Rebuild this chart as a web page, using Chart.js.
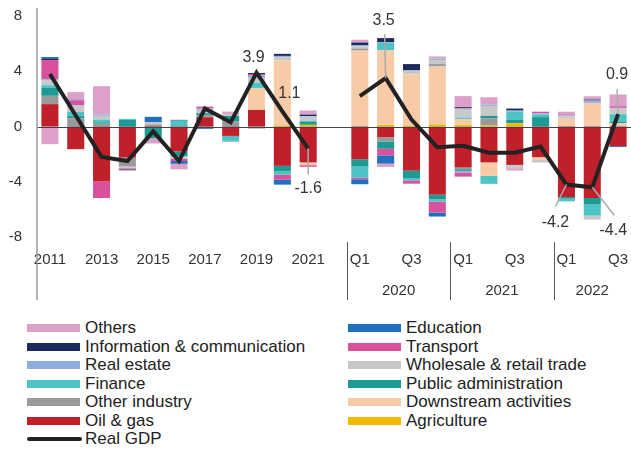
<!DOCTYPE html>
<html>
<head>
<meta charset="utf-8">
<script src="https://cdn.jsdelivr.net/npm/chart.js@4.4.1/dist/chart.umd.min.js"></script>
<style>
  html, body { margin: 0; padding: 0; background: #fff; }
  body { width: 631px; height: 449px; position: relative; overflow: hidden; font-family: "Liberation Sans", Arial, sans-serif; }
  #myChart { position: absolute; left: 0; top: 0; }
  #legend { position: absolute; left: 27px; top: 319px; display: grid; grid-template-columns: 321px 270px; grid-auto-rows: 18.5px; }
  .item { display: flex; align-items: center; font-size: 17px; color: #222; white-space: nowrap; }
  .sw { width: 53px; height: 8px; margin-right: 5px; }
  .ln { width: 55px; height: 4px; border-radius: 2px; margin-right: 3px; }
</style>
</head>
<body>
<canvas id="myChart" width="631" height="310"></canvas>
<div id="legend"></div>
<script>
const fontSize = 15;

// x categories: 2011-2021 annual, an empty slot, then quarters 2020Q1-2022Q3
const categories = ['2011','2012','2013','2014','2015','2016','2017','2018','2019','2020','2021','',
  'Q1','Q2','Q3','Q4','Q1','Q2','Q3','Q4','Q1','Q2','Q3'];
const yearGroups = ['2020', '2021', '2022'];
const yTicks = [-8, -4, 0, 4, 8];

// contributions, percentage points (stacked from zero outward in this order)
const agriculture   = [0,0,0,0,0,0,0,0,0,0.07,0.12,null, 0,0.12,0.07,0.15,0.12,0.07,0.24,0,0,0,0];
const oilGas        = [1.62,-1.64,-3.98,-2.25,0.05,-1.8,0.67,-0.68,1.2,-2.85,-2.6,null, -2.37,-0.77,-3.2,-4.95,-2.97,-2.6,-2.78,-2.22,-5.1,-5.17,-1.42];
const downstream    = [0,0,0,0,0,0,0,0,1.57,4.7,-0.2,null, 5.5,5.4,3.72,4.2,0.43,-0.97,0,-0.15,0.56,1.71,0.24];
const otherIndustry = [0.6,0.6,0.2,-0.65,0.1,0,0.15,0.36,-0.15,0,0,null, 0.15,-0.31,0,0.17,-0.12,0.53,0,0,0,0,0];
const publicAdmin   = [0.6,0.15,0.1,0.48,-0.85,-0.35,0.14,0.4,0.05,-0.4,0.24,null, -0.53,-0.53,-0.53,-0.31,-0.12,0.17,0.24,0.68,-0.12,-0.48,0.1];
const finance       = [0.17,0.3,0.2,0.07,0,0.43,0,-0.36,0.36,-0.24,0.05,null, -0.8,0.53,-0.17,-0.17,0.1,-0.58,0.6,0.17,-0.2,-0.8,0.55];
const wholesale     = [0.34,0.45,0.27,-0.12,0.15,-0.2,0.24,0.15,0.35,0.24,0.3,null, 0.15,0,0.27,0.3,0.65,0.72,-0.24,-0.24,0.17,-0.29,0.41];
const realEstate    = [0.1,0.05,0.1,0,0,0,0.1,-0.07,0.15,0.1,0.05,null, 0.08,0.05,0,0.1,-0.12,0.1,0.07,0.1,0.07,0.17,0.05];
const transport     = [1.38,0.34,-1.2,-0.08,0,-0.15,0.14,0,0.12,-0.36,-0.12,null, -0.12,-0.48,-0.24,-0.8,-0.3,0,0,0.12,0.07,0,0.12];
const infoComm      = [0.12,0,0,-0.07,0,0.05,0,0,0.07,0.15,0.1,null, 0.2,0.3,0.46,0,0.1,0,0.15,0,0,0.07,0];
const education     = [0.1,0.05,0,0,0.4,-0.2,-0.17,0,0,-0.36,0,null, -0.36,-0.6,0,-0.29,0,0,0,0,0,0,-0.07];
const others        = [-1.28,0.55,2.05,0,-0.38,-0.4,0,0.17,0,0,0.3,null, 0.2,-0.24,0,0.15,0.8,0.53,-0.17,0,0.2,0.24,0.85];
const realGdp       = [3.8,0.8,-2.2,-2.5,-0.35,-2.5,1.3,0.3,3.9,1.1,-1.6,null, 2.2,3.5,0.5,-1.5,-1.4,-1.9,-1.9,-1.45,-4.2,-4.4,0.9];

const series = [
  { label: 'Agriculture', data: agriculture, color: '#f5b800' },
  { label: 'Oil & gas', data: oilGas, color: '#c0202a' },
  { label: 'Downstream activities', data: downstream, color: '#f8cba7' },
  { label: 'Other industry', data: otherIndustry, color: '#9a9a9c' },
  { label: 'Public administration', data: publicAdmin, color: '#1d9a93' },
  { label: 'Finance', data: finance, color: '#4cc4c6' },
  { label: 'Wholesale & retail trade', data: wholesale, color: '#c8c8c8' },
  { label: 'Real estate', data: realEstate, color: '#8faedc' },
  { label: 'Transport', data: transport, color: '#d9519d' },
  { label: 'Information & communication', data: infoComm, color: '#1c2a5e' },
  { label: 'Education', data: education, color: '#1f70c1' },
  { label: 'Others', data: others, color: '#dda0c8' }
];

const legendOrder = ['Others','Education','Information & communication','Transport','Real estate',
  'Wholesale & retail trade','Finance','Public administration','Other industry','Downstream activities',
  'Oil & gas','Agriculture','Real GDP'];

// points of the GDP line that carry a value label
const labelledPoints = [8, 9, 10, 13, 20, 21, 22];

const tickFont = { family: '"Liberation Sans", Arial, sans-serif', size: fontSize };

const overlay = {
  id: 'overlay',
  beforeDatasetDraw(chart, args) {
    if (args.meta.type !== 'line') return;
    const c = chart.ctx, a = chart.chartArea, y0 = chart.scales.y.getPixelForValue(0);
    c.save();
    c.strokeStyle = '#444';
    c.lineWidth = 1;
    c.beginPath();
    c.moveTo(a.left, Math.round(y0) + 0.5);
    c.lineTo(631, Math.round(y0) + 0.5);
    c.stroke();
    c.restore();
  },
  afterDraw(chart) {
    const c = chart.ctx, a = chart.chartArea, x = chart.scales.x, y = chart.scales.y;
    const half = (x.getPixelForValue(1) - x.getPixelForValue(0)) / 2;
    c.save();
    // y axis line
    c.strokeStyle = '#999';
    c.lineWidth = 1.5;
    c.beginPath();
    c.moveTo(a.left, 8);
    c.lineTo(a.left, 300);
    c.stroke();
    // group separators and year labels
    c.strokeStyle = '#555';
    c.lineWidth = 1;
    c.fillStyle = '#333';
    c.font = fontSize + 'px "Liberation Sans", Arial, sans-serif';
    c.textAlign = 'center';
    c.textBaseline = 'middle';
    const starts = [12, 16, 20], ends = [15, 19, 22];
    starts.forEach((s, i) => {
      const sx = Math.round(x.getPixelForValue(s) - half) + 0.5;
      c.beginPath();
      c.moveTo(sx, 242);
      c.lineTo(sx, 300);
      c.stroke();
      const mid = (x.getPixelForValue(s) + x.getPixelForValue(ends[i])) / 2;
      c.fillText(yearGroups[i], mid, 291);
    });
    // value labels for the GDP line
    const offs = {
      8: { lead: null, tx: -3, ty: -15 },
      9: { lead: null, tx: 7, ty: -18 },
      10: { lead: [0, 26], tx: 0, ty: 40 },
      13: { lead: [-1, -44], tx: -2, ty: -58 },
      20: { lead: [-11, 22], tx: -11, ty: 38 },
      21: { lead: [22, 28], tx: 21, ty: 43 },
      22: { lead: [-1, -25], tx: -1, ty: -39 }
    };
    c.font = '16px "Liberation Sans", Arial, sans-serif';
    labelledPoints.forEach(i => {
      const px = x.getPixelForValue(i), py = y.getPixelForValue(realGdp[i]);
      const o = offs[i];
      if (o.lead) {
        c.strokeStyle = '#aaa';
        c.lineWidth = 1.5;
        c.beginPath();
        c.moveTo(px, py);
        c.lineTo(px + o.lead[0], py + o.lead[1]);
        c.stroke();
      }
      c.fillStyle = '#333';
      c.fillText(realGdp[i].toFixed(1), px + o.tx, py + o.ty);
    });
    c.restore();
  }
};

const datasets = [{
  type: 'line',
  label: 'Real GDP',
  data: realGdp,
  stack: 'gdp',
  order: -1,
  borderColor: '#222',
  borderWidth: 4,
  pointRadius: 0,
  spanGaps: false,
  tension: 0
}].concat(series.map(s => ({
  label: s.label,
  data: s.data,
  backgroundColor: s.color,
  borderWidth: 0,
  stack: 'contrib',
  categoryPercentage: 1,
  barPercentage: 0.66
})));

const myChart = new Chart(document.getElementById('myChart'), {
  type: 'bar',
  data: { labels: categories, datasets: datasets },
  plugins: [overlay],
  options: {
    responsive: false,
    animation: false,
    layout: { padding: { top: 16, right: 0, left: 0, bottom: 0 } },
    plugins: { legend: { display: false }, tooltip: { enabled: false } },
    scales: {
      x: {
        stacked: true,
        grid: { display: false, drawTicks: false },
        border: { display: false },
        ticks: {
          autoSkip: false, maxRotation: 0, padding: 14, color: '#333', font: tickFont,
          callback: function (v, i) {
            const l = categories[i];
            if (i <= 10) return i % 2 === 0 ? l : '';
            return (l === 'Q1' || l === 'Q3') ? l : '';
          }
        },
        afterFit: s => { s.height = 73; s.paddingLeft = 0; s.paddingRight = 0; }
      },
      y: {
        stacked: true,
        min: yTicks[0],
        max: yTicks[yTicks.length - 1],
        grid: { display: false, drawTicks: false },
        border: { display: false },
        ticks: { stepSize: 4, padding: 15, color: '#333', font: tickFont },
        afterFit: s => { s.width = 37; s.paddingTop = 0; s.paddingBottom = 0; }
      }
    }
  }
});

// legend in two columns
const legendEl = document.getElementById('legend');
legendOrder.forEach(name => {
  const item = document.createElement('div');
  item.className = 'item';
  const sw = document.createElement('span');
  if (name === 'Real GDP') {
    sw.className = 'ln';
    sw.style.background = '#222';
  } else {
    sw.className = 'sw';
    sw.style.background = series.find(s => s.label === name).color;
  }
  item.appendChild(sw);
  item.appendChild(document.createTextNode(name));
  legendEl.appendChild(item);
});
</script>
</body>
</html>
